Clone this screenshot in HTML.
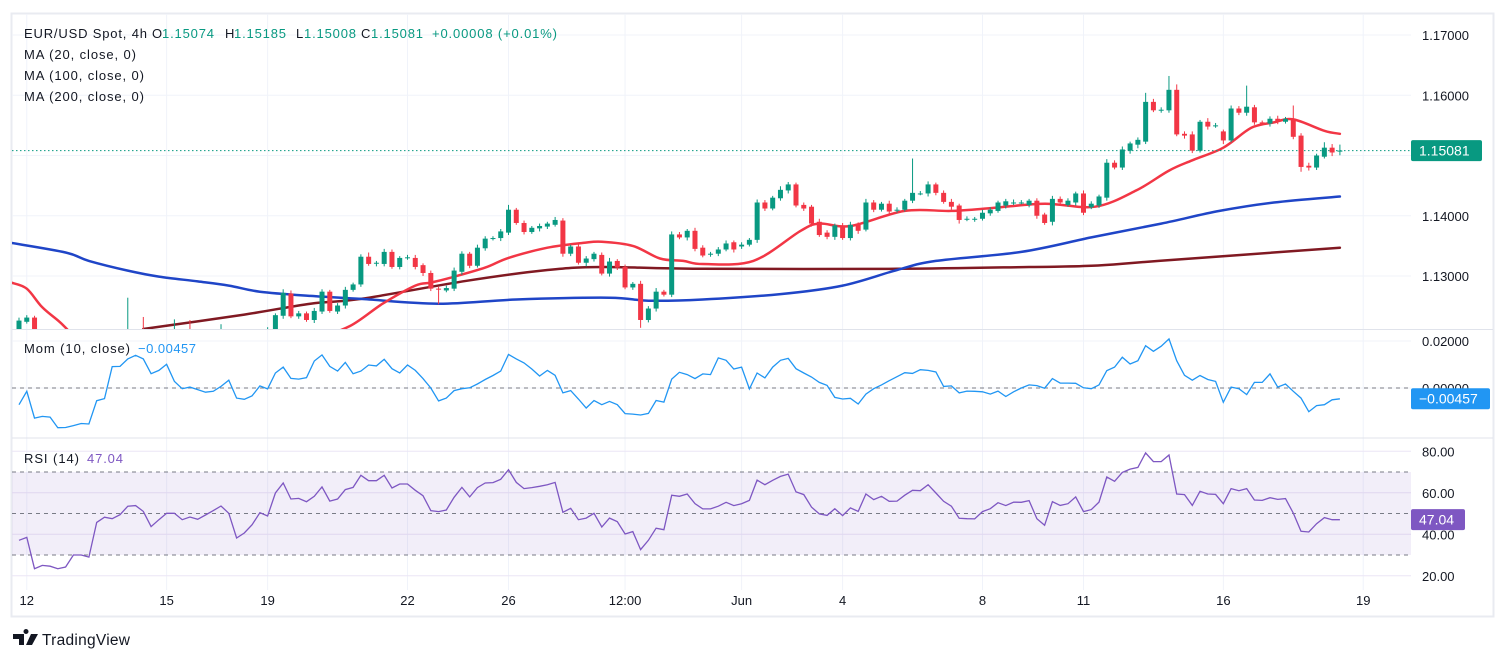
<!DOCTYPE html>
<html><head><meta charset="utf-8"><title>EUR/USD 4h</title>
<style>
html,body{margin:0;padding:0;background:#fff;}
svg{display:block;font-family:"Liberation Sans",sans-serif;}
</style></head>
<body>
<svg id="chart" width="1506" height="661" viewBox="0 0 1506 661" xmlns="http://www.w3.org/2000/svg">
<defs>
<clipPath id="cpMain"><rect x="12" y="14" width="1399" height="315"/></clipPath>
<clipPath id="cpMom"><rect x="12" y="330" width="1399" height="107"/></clipPath>
<clipPath id="cpRsi"><rect x="12" y="439" width="1399" height="151"/></clipPath>
</defs>
<rect x="11.5" y="13.5" width="1482" height="603" fill="#fff" stroke="#e9ebf1" stroke-width="2"/>
<g id="grid"></g>
<line x1="12" y1="329.5" x2="1493" y2="329.5" stroke="#e0e3eb"/>
<line x1="12" y1="438" x2="1493" y2="438" stroke="#e0e3eb"/>
<rect x="12" y="472" width="1399" height="83" fill="rgba(126,87,194,0.1)"/>
<g id="levels"></g>
<g id="main" clip-path="url(#cpMain)"></g>
<g id="mom" clip-path="url(#cpMom)"></g>
<g id="rsi" clip-path="url(#cpRsi)"></g>
<g id="axes" font-size="13" fill="#131722"></g>

<g font-size="13">
<text x="24" y="38" fill="#131722" textLength="123">EUR/USD Spot, 4h</text>
<text x="152" y="38" fill="#131722">O</text>
<text x="162" y="38" fill="#089981" textLength="52">1.15074</text>
<text x="225" y="38" fill="#131722">H</text>
<text x="234" y="38" fill="#089981" textLength="52">1.15185</text>
<text x="296" y="38" fill="#131722">L</text>
<text x="304" y="38" fill="#089981" textLength="52">1.15008</text>
<text x="361" y="38" fill="#131722">C</text>
<text x="371" y="38" fill="#089981" textLength="52">1.15081</text>
<text x="432" y="38" fill="#089981" textLength="125">+0.00008 (+0.01%)</text>
<text x="24" y="59" fill="#131722" textLength="112">MA (20, close, 0)</text>
<text x="24" y="80" fill="#131722" textLength="120">MA (100, close, 0)</text>
<text x="24" y="101" fill="#131722" textLength="120">MA (200, close, 0)</text>
<text x="24" y="353" fill="#131722" textLength="106">Mom (10, close)</text>
<text x="138" y="353" fill="#2196f3" textLength="58">−0.00457</text>
<text x="24" y="463" fill="#131722" textLength="55">RSI (14)</text>
<text x="87" y="463" fill="#7e57c2" textLength="36">47.04</text>
</g>

<g>
<path d="M13 634h11v11h-5v-6h-6z M26 634a2.5 2.5 0 1 1 0.01 0z M31 634h7l-6 11h-6z" fill="#131722"/>
<text x="42" y="645" font-size="15.5" fill="#131722" textLength="88">TradingView</text>
</g>
</svg>
<script>
// ---------- data ----------
const opens=[1.1212,1.1224,1.1231,1.1205,1.1198,1.1190,1.1182,1.1176,1.1170,1.1165,1.1160,1.1168,1.1172,1.1165,1.1170,1.1185,1.1180,1.1178,1.1175,1.1170,1.1168,1.1176,1.1180,1.1178,1.1185,1.1180,1.1176,1.1182,1.1190,1.1195,1.1198,1.1200,1.1205,
1.1212,1.1234,1.1271,1.1233,1.1238,1.1227,1.1241,1.1274,1.1241,1.1251,1.1277,
1.1286,1.1332,1.1321,1.1320,1.1340,1.1315,1.1330,1.1330,1.1318,1.1305,1.1279,1.1276,1.1279,1.1307,1.1337,1.1317,1.1346,1.1362,1.1363,1.1372,1.1410,1.1388,1.1373,1.1379,1.1382,1.1385,1.1392,1.1337,1.1349,1.1322,1.1328,1.1335,1.1304,1.1325,1.1315,1.1281,1.1287,1.1227,1.1246,1.1274,1.1269,1.1369,1.1364,1.1375,
1.1347,1.1337,1.1337,1.1344,1.1356,1.1349,1.1352,1.1360,1.1422,1.1412,1.1429,1.1442,1.1452,1.1418,1.1415,1.1390,1.1372,1.1365,1.1384,1.1363,1.1385,1.1377,1.1422,1.1410,1.1420,1.1410,1.1410,1.1425,1.1437,1.1437,1.1452,1.1438,1.1423,1.1417,1.1395,1.1395,1.1395,1.1404,1.1408,1.1417,1.1422,1.1422,1.1418,1.1425,1.1402,1.1390,1.1428,1.1418,1.1422,1.1437,1.1414,1.1417,1.1430,1.1488,1.1480,1.1508,1.1518,1.1523,1.1589,1.1576,1.1575,1.1609,1.1536,1.1535,1.1508,1.1556,1.1550,1.1540,1.1525,1.1578,1.1571,1.1580,1.1555,1.1553,1.1561,1.1556,1.1561,1.1533,1.1483,1.1480,1.1498,1.1513,1.15074];
const closes=[1.1226,1.1231,1.1205,1.1198,1.1190,1.1182,1.1176,1.1170,1.1165,1.1160,1.1168,1.1172,1.1165,1.1170,1.1185,1.1180,1.1178,1.1175,1.1170,1.1168,1.1176,1.1180,1.1178,1.1185,1.1180,1.1176,1.1182,1.1190,1.1195,1.1198,1.1200,1.1205,1.1212,
1.1235,1.1272,1.1233,1.1238,1.1227,1.1242,1.1274,1.1242,1.1251,1.1277,1.1286,
1.1332,1.1320,1.1322,1.1340,1.1315,1.1330,1.1331,1.1315,1.1305,1.1279,1.1278,1.1280,1.1309,1.1337,1.1317,1.1347,1.1362,1.1363,1.1374,1.1410,1.1388,1.1373,1.1380,1.1383,1.1387,1.1393,1.1337,1.1349,1.1322,1.1329,1.1337,1.1304,1.1324,1.1314,1.1281,1.1287,1.1227,1.1246,1.1274,1.1269,1.1369,1.1364,1.1375,1.1345,
1.1334,1.1337,1.1344,1.1354,1.1344,1.1352,1.1360,1.1422,1.1412,1.1430,1.1443,1.1452,1.1417,1.1412,1.1387,1.1368,1.1365,1.1384,1.1363,1.1385,1.1375,1.1422,1.1410,1.1420,1.1407,1.1410,1.1425,1.1438,1.1437,1.1452,1.1438,1.1423,1.1415,1.1393,1.1395,1.1395,1.1405,1.1410,1.1422,1.1424,1.1422,1.1422,1.1425,1.1400,1.1388,1.1428,1.1422,1.1425,1.1437,1.1405,1.1420,1.1432,1.1488,1.1480,1.1510,1.1520,1.1526,1.1589,1.1575,1.1576,1.1609,1.1535,1.1533,1.1508,1.1556,1.1548,1.1550,1.1525,1.1578,1.1571,1.1581,1.1555,1.1553,1.1561,1.1556,1.1561,1.1531,1.1481,1.1480,1.1500,1.1513,1.1505,1.15081];
const wickUpPips=[5,4,3,4,3,4,3,5,4,3, 4,3,4,3,79,4,52,3,4,3, 52,4,47,3,4,3,38,4,3,4, 3,4,3,3,6,5,4,3,5,4, 3,4,5,3,4,7,3,5,4,3, 4,5,3,4,3,4,5,4,3,5, 4,3,4,8,3,4,3,4,3,5, 4,3,5,4,3,4,6,3,4,3, 5,4,6,3,5,4,3,5,4,3, 4,5,3,4,3,5,4,3,6,4, 3,4,3,5,4,3,4,5,4,6, 4,3,5,4,3,57,4,5,3,4, 5,3,4,3,5,4,3,4,5,4, 3,4,3,5,4,4,3,5,4,3, 6,4,5,3,4,15,5,4,23,9, 4,5,3,6,4,3,5,4,35,4, 3,4,5,3,22,4,5,3,9,6, 10];
const wickDnPips=[4,3,5,3,4,3,4,3,4,3, 3,4,3,4,3,4,3,4,3,4, 3,4,3,4,3,4,3,4,3,4, 3,4,3,4,5,3,4,3,5,4, 3,4,5,3,4,3,5,4,3,4, 3,4,5,4,25,3,4,5,4,3, 4,3,5,4,3,4,3,5,4,3, 5,4,3,6,4,3,5,4,3,4, 13,4,5,3,4,3,5,4,3,5, 4,3,5,4,3,5,4,3,4,5, 3,4,5,3,4,5,3,4,5,3, 4,3,4,5,3,4,3,5,4,3, 5,6,4,5,3,4,3,5,4,3, 4,5,3,6,4,3,5,4,3,4, 5,3,4,5,6,4,3,5,4,3, 5,4,3,5,4,6,3,4,5,4, 3,5,4,3,4,8,5,4,3,6, 7];
const ma20Idx=[-1,1,3,5.3,8,12,20,30,38,42.6,46.8,51,53,55.5,60,63,68,72.6,75,79,82.5,85.5,88,94.5,100.6,103,107,114,120,125.4,132,138.5,143.8,148,151,155,158.6,161.5,164,168,170];
const ma20Val=[1.1289,1.1279,1.1248,1.1223,1.1190,1.1160,1.1150,1.1160,1.1195,1.1217,1.1254,1.1284,1.1289,1.1297,1.1314,1.1330,1.1347,1.1355,1.1357,1.1350,1.1329,1.1325,1.1320,1.1325,1.1375,1.1387,1.1383,1.1408,1.1408,1.1413,1.1420,1.1415,1.1442,1.1475,1.1492,1.1513,1.1546,1.1555,1.1560,1.1541,1.1536];
const ma100Idx=[-1,6,9,14,18,23,27,31,37.5,44,54,64,76,81,88,98,106,113,118,129,138,147,154.5,161.5,170];
const ma100Val=[1.1355,1.1339,1.1325,1.1309,1.1299,1.1291,1.1284,1.1274,1.1267,1.1262,1.1254,1.1261,1.1264,1.1259,1.1261,1.1270,1.1284,1.1310,1.1325,1.1340,1.1364,1.1387,1.1408,1.1422,1.1432];
const ma200Idx=[16,29,37.5,44,57.6,68,75,87.6,113,130,138,146.7,170];
const ma200Val=[1.1212,1.1236,1.1254,1.1262,1.1292,1.1310,1.1315,1.1312,1.1312,1.1315,1.1317,1.1325,1.1347];
const momPips=[-71,-14,-128,-121,-124,-169,-168,-160,-151,-153,-54,-45,91,92,124,139,124,61,75,101,28,-3,4,-7,-18,-14,7,33,-43,-48,-33,9,-4,64,89,41,38,44,115,141,92,72,109,61,72,98,94,122,82,64,98,75,40,0,-55,-43,-11,-3,1,17,36,53,72,143,124,107,81,51,75,54,-21,-11,-47,-85,-53,-71,-57,-71,-109,-111,-115,-108,-53,-60,38,67,57,40,60,57,128,118,81,89,-4,64,43,89,118,126,82,64,47,24,11,-40,-47,-44,-68,-26,-3,13,31,48,65,62,78,75,68,7,9,-21,-13,-14,-16,-26,-13,-36,-16,0,13,10,-1,40,21,21,20,1,-3,13,74,89,131,102,116,180,156,178,209,116,54,33,53,36,28,-61,4,-3,-28,24,24,60,4,17,-14,-43,-101,-75,-71,-50,-46];
const rsiVals=[37.1,38.5,23.4,25.0,24.6,23.4,24.2,30.0,30.0,29.0,45.7,48.2,47.5,49.4,53.5,53.8,51.0,43.7,47.0,50.1,50.1,47.0,48.3,47.2,49.3,51.4,53.6,50.1,38.2,40.6,44.6,50.4,48.8,59.9,64.7,57.0,57.3,55.7,58.3,62.8,56.0,57.0,61.5,62.6,68.4,65.8,65.8,68.4,62.3,64.2,64.2,61.2,58.6,51.4,50.9,51.7,57.8,62.6,58.0,62.5,64.7,64.9,66.5,71.1,65.0,62.0,62.5,63.1,63.9,65.0,50.6,52.5,47.0,47.8,50.1,43.5,47.8,46.1,40.1,41.3,32.6,37.1,42.9,42.2,58.8,58.3,59.4,54.7,52.2,52.2,53.5,55.4,53.8,54.7,56.3,66.1,63.9,66.0,67.9,69.0,60.4,59.1,53.1,49.8,49.1,52.3,49.0,52.7,51.0,59.4,56.7,58.3,55.9,56.0,58.8,61.2,61.0,63.9,59.9,55.9,53.5,47.7,47.5,47.4,50.9,52.3,55.2,53.8,55.5,55.4,56.2,47.5,44.3,55.7,53.9,54.7,58.0,50.9,51.9,55.5,67.6,65.5,69.8,71.4,72.2,79.2,75.0,75.0,78.2,59.4,59.1,53.9,60.7,59.4,59.2,54.7,62.0,61.0,62.0,56.5,56.3,57.6,56.8,57.2,50.2,41.4,41.1,45.1,48.0,47.0,47.0];
const priceTicks=[1.17,1.16,1.15,1.14,1.13];
const priceTickLabels=["1.17000","1.16000","1.15000","1.14000","1.13000"];
const momTicks=[0.02,0];
const momTickLabels=["0.02000","0.00000"];
const rsiTicks=[80,60,40,20];
const rsiTickLabels=["80.00","60.00","40.00","20.00"];
const timeTickIdx=[1,19,32,50,63,78,93,106,124,137,155,173];
const timeTickLabels=["12","15","19","22","26","12:00","Jun","4","8","11","16","19"];
const lastPrice=1.15081, lastMom=-0.00457, lastRsi=47.04;

// ---------- scales ----------
const X0=19, STEP=7.77, PL=12, PR=1411;
const xOf=i=>X0+i*STEP;
const yP=p=>35+(1.17-p)*6025;
const yM=v=>388-v*2350;
const yR=r=>472+(70-r)*2.075;
const NS="http://www.w3.org/2000/svg";
function mk(tag,attrs,parent){const e=document.createElementNS(NS,tag);for(const k in attrs)e.setAttribute(k,attrs[k]);parent.appendChild(e);return e;}

const grid=document.getElementById('grid');
const levels=document.getElementById('levels');
const main=document.getElementById('main');
const mom=document.getElementById('mom');
const rsi=document.getElementById('rsi');
const axes=document.getElementById('axes');

timeTickIdx.forEach((ti,k)=>{
  const x=xOf(ti);
  const l=mk('line',{x1:x,y1:14,x2:x,y2:590,stroke:'#f0f3fa'},grid);
  
  
  const t=mk('text',{x:x,y:605,'text-anchor':'middle'},axes);
  t.textContent=timeTickLabels[k];
  
  
});
priceTicks.forEach((p,k)=>{
  const y=yP(p);
  const l=mk('line',{x1:PL,y1:y,x2:PR,y2:y,stroke:'#f0f3fa'},grid);
  
  
  const t=mk('text',{x:1422,y:y+5},axes);
  t.textContent=priceTickLabels[k];
  
  
});
momTicks.forEach((v,k)=>{
  const y=yM(v);
  const l=mk('line',{x1:PL,y1:y,x2:PR,y2:y,stroke:'#f0f3fa'},grid);
  
  
  const t=mk('text',{x:1422,y:y+5},axes);
  t.textContent=momTickLabels[k];
  
  
});
rsiTicks.forEach((v,k)=>{
  const y=yR(v);
  const l=mk('line',{x1:PL,y1:y,x2:PR,y2:y,stroke:'#ebe6f5'},grid);
  
  
  const t=mk('text',{x:1422,y:y+5},axes);
  t.textContent=rsiTickLabels[k];
  
  
});
[[yM(0),'mom-zero-line'],[yR(70),'rsi-upper-band'],[yR(50),'rsi-middle-band'],[yR(30),'rsi-lower-band']].forEach(([y,n])=>{
  const l=mk('line',{x1:PL,y1:y,x2:PR,y2:y,stroke:'#787b86','stroke-dasharray':'4 4','stroke-width':1},levels);
  
  
});

// smooth MA paths (Catmull-Rom -> Bezier)
function smoothPath(pts){
  let d='M'+pts[0][0].toFixed(1)+' '+pts[0][1].toFixed(1);
  for(let i=0;i<pts.length-1;i++){
    const p0=pts[Math.max(0,i-1)],p1=pts[i],p2=pts[i+1],p3=pts[Math.min(pts.length-1,i+2)];
    const c1x=p1[0]+(p2[0]-p0[0])/6,c1y=p1[1]+(p2[1]-p0[1])/6;
    const c2x=p2[0]-(p3[0]-p1[0])/6,c2y=p2[1]-(p3[1]-p1[1])/6;
    d+=' C'+c1x.toFixed(1)+' '+c1y.toFixed(1)+' '+c2x.toFixed(1)+' '+c2y.toFixed(1)+' '+p2[0].toFixed(1)+' '+p2[1].toFixed(1);
  }
  return d;
}
function maPath(idx,val,color,w,name){
  const pts=idx.map((i,k)=>[xOf(i),yP(val[k])]);
  const p=mk('path',{d:smoothPath(pts),fill:'none',stroke:color,'stroke-width':w,'stroke-linejoin':'round','stroke-linecap':'round'},main);
  
  
}
maPath(ma200Idx,ma200Val,'#801922',2.5,'ma200-line');
maPath(ma100Idx,ma100Val,'#1f45c7',2.5,'ma100-line');
maPath(ma20Idx,ma20Val,'#f23645',2.5,'ma20-line');

const lp=mk('line',{x1:PL,y1:yP(lastPrice),x2:PR,y2:yP(lastPrice),stroke:'#089981','stroke-dasharray':'1.5 2.5','stroke-width':1},main);



closes.forEach((c,i)=>{
  const o=opens[i];
  const up=c>=o;
  const col=up?'#089981':'#f23645';
  const top=Math.max(o,c), bot=Math.min(o,c);
  const hi=top+wickUpPips[i]*0.0001, lo=bot-wickDnPips[i]*0.0001;
  const x=xOf(i);
  const g=mk('g',{},main);
  
  
  mk('line',{x1:x,y1:yP(hi),x2:x,y2:yP(lo),stroke:col,'stroke-width':1},g);
  const yt=yP(top), yb=yP(bot);
  mk('rect',{x:x-2.5,y:yt,width:5,height:Math.max(1,yb-yt),fill:col},g);
});

const mp=mk('path',{d:momPips.map((v,i)=>(i?'L':'M')+xOf(i).toFixed(1)+' '+yM(v*0.0001).toFixed(1)).join(' '),fill:'none',stroke:'#2196f3','stroke-width':1.3},mom);


const rp=mk('path',{d:rsiVals.map((v,i)=>(i?'L':'M')+xOf(i).toFixed(1)+' '+yR(v).toFixed(1)).join(' '),fill:'none',stroke:'#7e57c2','stroke-width':1.3},rsi);



function badge(y,w,fill,label,name){
  const g=mk('g',{},axes);
  
  
  mk('rect',{x:1411,y:y-10.5,width:w,height:21,rx:2,fill:fill},g);
  const t=mk('text',{x:1419,y:y+5,fill:'#fff','font-size':14},g);
  t.textContent=label;
}
badge(yP(lastPrice),71,'#089981','1.15081','last-price-badge');
badge(yM(lastMom),79,'#2196f3','−0.00457','momentum-badge');
badge(yR(lastRsi),54,'#7e57c2','47.04','rsi-badge');
</script>
</body></html>
